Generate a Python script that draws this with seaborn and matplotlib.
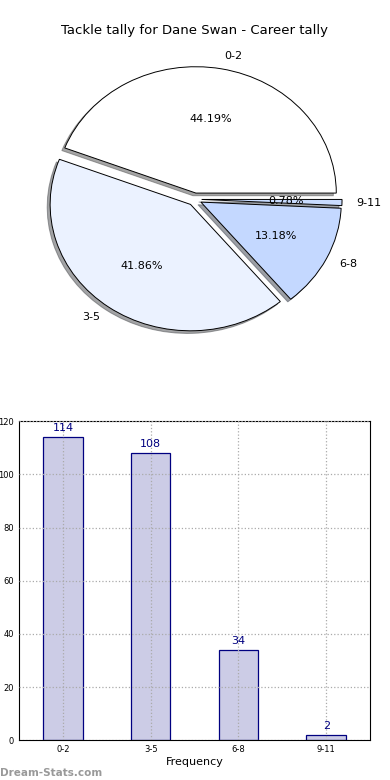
import matplotlib
matplotlib.use("Agg")
from matplotlib import pyplot as plt
import seaborn as sns
import pandas as pd

categories = ["0-2", "3-5", "6-8", "9-11"]
tackles = [114, 108, 34, 2]
pie_colors = ["#ffffff", "#ebf2ff", "#c4d8ff", "#c9dcff"]

sns.set_style("white")
plt.rcParams["font.family"] = ["DejaVu Sans"]
plt.rcParams["text.color"] = "black"
plt.rcParams["axes.labelcolor"] = "black"
plt.rcParams["xtick.color"] = "black"
plt.rcParams["ytick.color"] = "black"

fig = plt.figure(figsize=(3.9, 7.8), dpi=100)

# pie on top
ax1 = fig.add_axes([0.049, 0.542, 0.9, 0.405])
wedges, texts, autotexts = ax1.pie(
    tackles, labels=categories, colors=pie_colors, autopct="%.2f%%",
    explode=[0.05] * 4, shadow={"ox": -0.015, "oy": -0.015, "shade": 0.7},
    startangle=0,
    wedgeprops={"edgecolor": "black", "linewidth": 0.7},
    textprops={"fontsize": 8, "color": "black"})
ax1.set_aspect("auto")
ax1.set_xlim(-1.25, 1.25)
ax1.set_ylim(-1.25, 1.25)
ax1.set_title("Tackle tally for Dane Swan - Career tally", fontsize=9.5, pad=5)

# bar chart below
df = pd.DataFrame({"range": categories, "count": tackles})
ax2 = fig.add_axes([0.049, 0.051, 0.9, 0.409])
sns.barplot(ax=ax2, data=df, x="range", y="count", width=0.45,
            color="#ccccE6", saturation=1, edgecolor="navy", linewidth=0.9)
for i, v in enumerate(tackles):
    ax2.text(i, v + 1.5, str(v), ha="center", va="bottom", color="navy", fontsize=8)
ax2.set_xlim(-0.5, 3.5)
ax2.set_ylim(0, 120)
ax2.set_yticks(range(0, 121, 20))
ax2.grid(True, linestyle=":", color="#aaaaaa", linewidth=0.9)
ax2.set_axisbelow(False)
for b in ax2.patches:
    b.set_zorder(1)
ax2.tick_params(labelsize=6, direction="in", length=3)
ax2.set_xlabel("Frequency", fontsize=8, labelpad=2)
ax2.set_ylabel("")
for s in ax2.spines.values():
    s.set_color("black")
    s.set_linewidth(0.8)

fig.text(0.0, 0.005, "Dream-Stats.com", color="#999999", fontsize=7.5, fontweight="bold")

plt.savefig("out.png", dpi=100)
